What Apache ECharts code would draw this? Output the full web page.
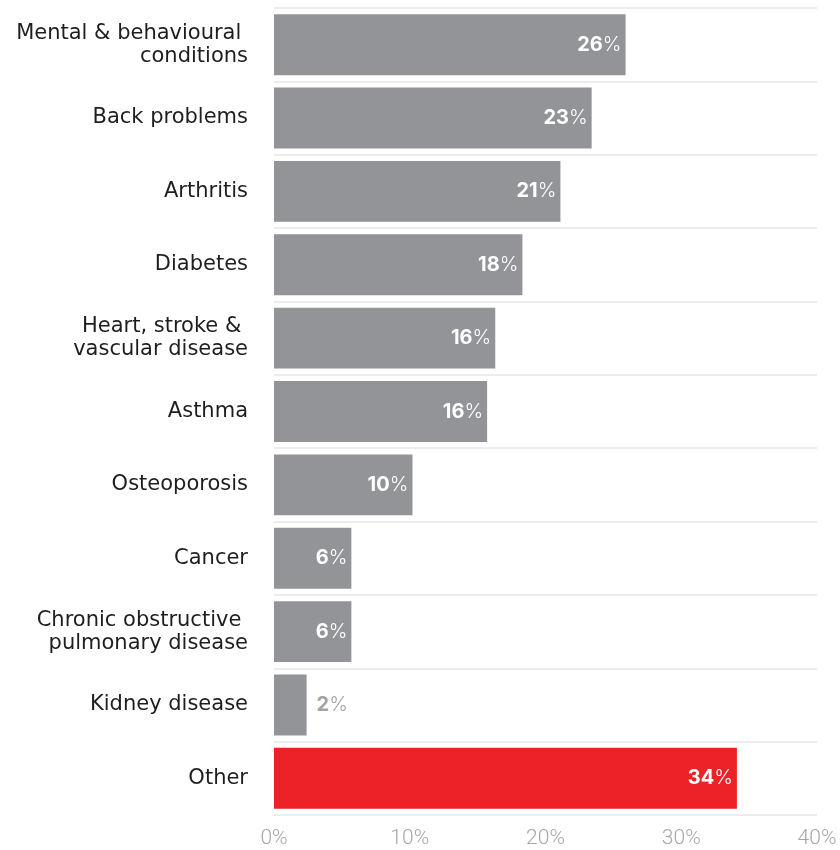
<!DOCTYPE html>
<html>
<head>
<meta charset="utf-8">
<script src="https://cdn.jsdelivr.net/npm/echarts@6/dist/echarts.min.js"></script>
<style>
  html, body { margin: 0; padding: 0; background: #fff; }
  #chart { width: 840px; height: 850px; }
</style>
</head>
<body>
<div id="chart"></div>
<script>
// Share of people with each chronic condition (per cent)
const conditions = [
  'Mental & behavioural \nconditions',
  'Back problems',
  'Arthritis',
  'Diabetes',
  'Heart, stroke & \nvascular disease',
  'Asthma',
  'Osteoporosis',
  'Cancer',
  'Chronic obstructive \npulmonary disease',
  'Kidney disease',
  'Other'
];
const shares = [25.9, 23.4, 21.1, 18.3, 16.3, 15.7, 10.2, 5.7, 5.7, 2.4, 34.1];
const highlighted = ['Other'];
const axisTicks = [0, 10, 20, 30, 40];

const GREY = '#939498';
const RED = '#ec2227';
const FONT = 'Inter, "Noto Sans", sans-serif';
const CAT_FONT = '"DejaVu Sans", "Noto Sans", sans-serif';

const barData = shares.map((v, i) => {
  const isHi = highlighted.includes(conditions[i]);
  const small = v < 4;
  return {
    value: v,
    itemStyle: { color: isHi ? RED : GREY },
    label: small
      ? { position: 'right', distance: 10, color: '#a3a4a7',
          rich: { n: { color: '#a3a4a7' }, p: { color: '#a3a4a7' } } }
      : { position: 'insideRight', distance: 4 }
  };
});

const chart = echarts.init(document.getElementById('chart'), null, { renderer: 'canvas' });
chart.setOption({
  animation: false,
  backgroundColor: '#ffffff',
  grid: { left: 274, right: 23, top: 8, bottom: 35, containLabel: false },
  xAxis: {
    type: 'value',
    min: axisTicks[0],
    max: axisTicks[axisTicks.length - 1],
    interval: 10,
    axisLine: { show: false },
    axisTick: { show: false },
    splitLine: { show: false },
    axisLabel: {
      formatter: '{value}%',
      color: '#a6a7aa',
      fontFamily: 'Roboto, Inter, sans-serif',
      fontSize: 21,
      fontWeight: 300,
      margin: 13
    }
  },
  yAxis: {
    type: 'category',
    inverse: true,
    data: conditions,
    axisLine: { show: false },
    axisTick: { show: false },
    splitLine: { show: true, lineStyle: { color: '#e6e6e6', width: 1.5 } },
    axisLabel: {
      color: '#1e1e1e',
      fontFamily: CAT_FONT,
      fontSize: 21,
      lineHeight: 23,
      align: 'right',
      margin: 26
    }
  },
  series: [{
    type: 'bar',
    data: barData,
    barCategoryGap: '17%',
    label: {
      show: true,
      formatter: p => '{n|' + Math.round(p.value) + '}{p|%}',
      color: '#ffffff',
      rich: {
        n: { fontFamily: FONT, fontSize: 20, fontWeight: 'bold', color: '#ffffff' },
        p: { fontFamily: FONT, fontSize: 20, fontWeight: 300, color: '#ffffff' }
      }
    }
  }]
});
</script>
</body>
</html>
